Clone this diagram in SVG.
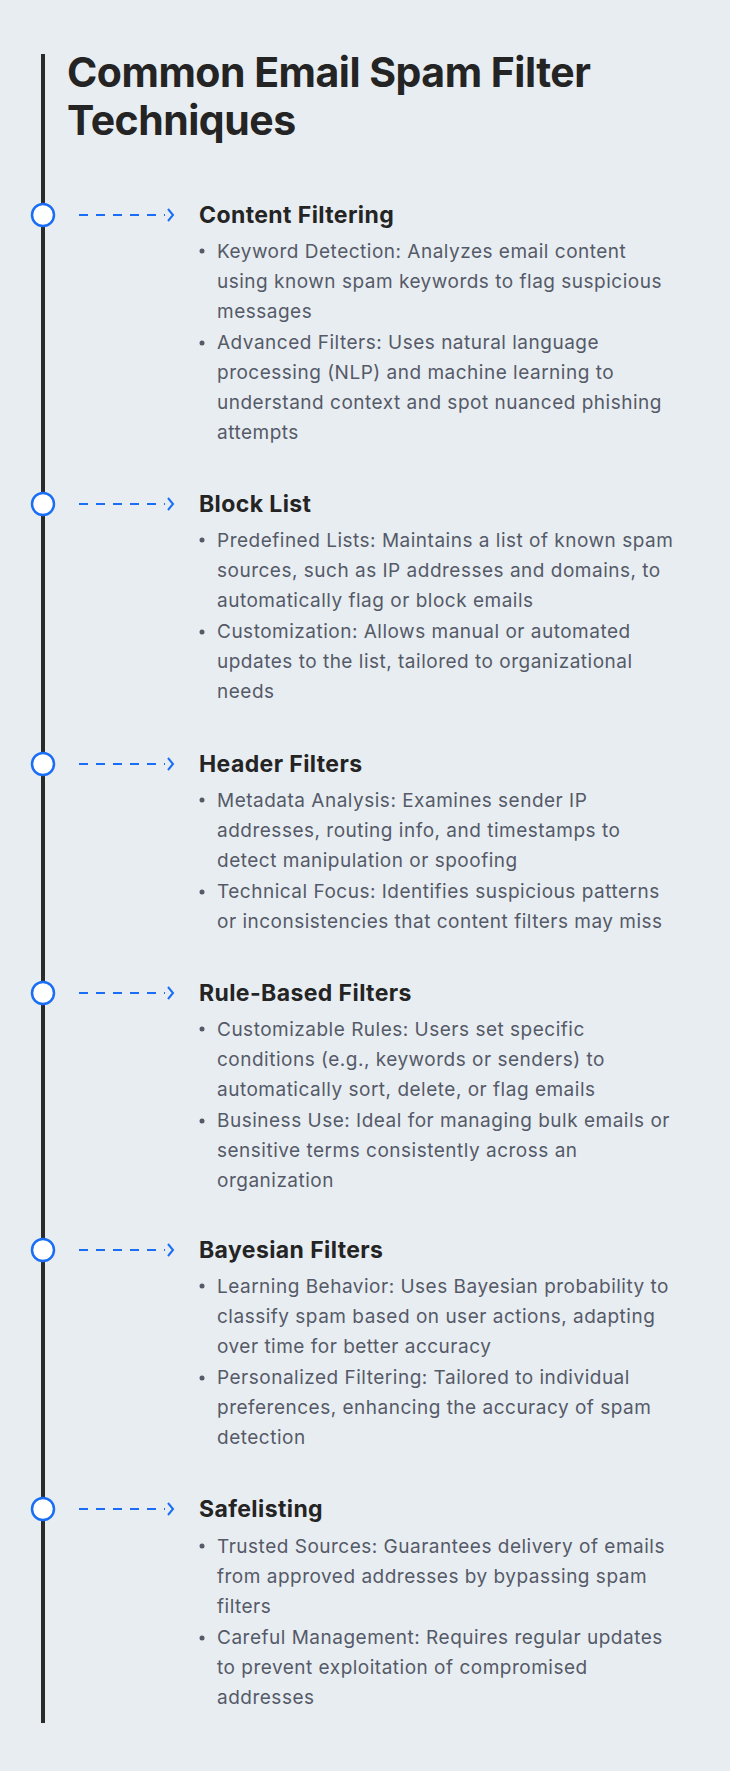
<svg xmlns="http://www.w3.org/2000/svg" width="730" height="1771" viewBox="0 0 730 1771">
<style>
.title{font-family:Inter,"Liberation Sans",sans-serif;font-weight:700;font-size:41px;fill:#242424;letter-spacing:-0.5px}
.h{font-family:Inter,"Liberation Sans",sans-serif;font-weight:700;font-size:23px;fill:#242424;letter-spacing:0.4px}
.b{font-family:Inter,"Liberation Sans",sans-serif;font-size:19px;fill:#555a68;letter-spacing:0.5px}
.dot{fill:#555a68}
.node{fill:#fff;stroke:#1a6ef5;stroke-width:2.5}
.dash{stroke:#1a6ef5;stroke-width:2;stroke-dasharray:9 8;fill:none}
.chev{stroke:#1a6ef5;stroke-width:2;fill:none}
</style>
<rect width="730" height="1771" fill="#e8edf1"/>
<line x1="43" y1="54" x2="43" y2="1723" stroke="#2b2b2b" stroke-width="4"/>
<text class="title" x="67" y="87">Common Email Spam Filter</text>
<text class="title" x="67" y="135">Techniques</text>
<g id="connectors">
<path class="dash" d="M79 215H165"/><path class="chev" d="M168 209l5 6l-5 6"/>
<path class="dash" d="M79 504H165"/><path class="chev" d="M168 498l5 6l-5 6"/>
<path class="dash" d="M79 764H165"/><path class="chev" d="M168 758l5 6l-5 6"/>
<path class="dash" d="M79 993H165"/><path class="chev" d="M168 987l5 6l-5 6"/>
<path class="dash" d="M79 1250H165"/><path class="chev" d="M168 1244l5 6l-5 6"/>
<path class="dash" d="M79 1509H165"/><path class="chev" d="M168 1503l5 6l-5 6"/>
</g>
<g id="n1"><circle class="node" cx="43" cy="215" r="11"/>
<text class="h" x="199" y="223">Content Filtering</text>
<circle class="dot" cx="202" cy="251" r="2.5"/><circle class="dot" cx="202" cy="343" r="2.5"/>
<text class="b" x="217" y="258">Keyword Detection: Analyzes email content</text>
<text class="b" x="217" y="288">using known spam keywords to flag suspicious</text>
<text class="b" x="217" y="318">messages</text>
<text class="b" x="217" y="349">Advanced Filters: Uses natural language</text>
<text class="b" x="217" y="379">processing (NLP) and machine learning to</text>
<text class="b" x="217" y="409">understand context and spot nuanced phishing</text>
<text class="b" x="217" y="439">attempts</text></g>
<g id="n2"><circle class="node" cx="43" cy="504" r="11"/>
<text class="h" x="199" y="512">Block List</text>
<circle class="dot" cx="202" cy="540" r="2.5"/><circle class="dot" cx="202" cy="632" r="2.5"/>
<text class="b" x="217" y="547">Predefined Lists: Maintains a list of known spam</text>
<text class="b" x="217" y="577">sources, such as IP addresses and domains, to</text>
<text class="b" x="217" y="607">automatically flag or block emails</text>
<text class="b" x="217" y="638">Customization: Allows manual or automated</text>
<text class="b" x="217" y="668">updates to the list, tailored to organizational</text>
<text class="b" x="217" y="698">needs</text></g>
<g id="n3"><circle class="node" cx="43" cy="764" r="11"/>
<text class="h" x="199" y="772">Header Filters</text>
<circle class="dot" cx="202" cy="800" r="2.5"/><circle class="dot" cx="202" cy="892" r="2.5"/>
<text class="b" x="217" y="807">Metadata Analysis: Examines sender IP</text>
<text class="b" x="217" y="837">addresses, routing info, and timestamps to</text>
<text class="b" x="217" y="867">detect manipulation or spoofing</text>
<text class="b" x="217" y="898">Technical Focus: Identifies suspicious patterns</text>
<text class="b" x="217" y="928">or inconsistencies that content filters may miss</text></g>
<g id="n4"><circle class="node" cx="43" cy="993" r="11"/>
<text class="h" x="199" y="1001">Rule-Based Filters</text>
<circle class="dot" cx="202" cy="1029" r="2.5"/><circle class="dot" cx="202" cy="1121" r="2.5"/>
<text class="b" x="217" y="1036">Customizable Rules: Users set specific</text>
<text class="b" x="217" y="1066">conditions (e.g., keywords or senders) to</text>
<text class="b" x="217" y="1096">automatically sort, delete, or flag emails</text>
<text class="b" x="217" y="1127">Business Use: Ideal for managing bulk emails or</text>
<text class="b" x="217" y="1157">sensitive terms consistently across an</text>
<text class="b" x="217" y="1187">organization</text></g>
<g id="n5"><circle class="node" cx="43" cy="1250" r="11"/>
<text class="h" x="199" y="1258">Bayesian Filters</text>
<circle class="dot" cx="202" cy="1286" r="2.5"/><circle class="dot" cx="202" cy="1378" r="2.5"/>
<text class="b" x="217" y="1293">Learning Behavior: Uses Bayesian probability to</text>
<text class="b" x="217" y="1323">classify spam based on user actions, adapting</text>
<text class="b" x="217" y="1353">over time for better accuracy</text>
<text class="b" x="217" y="1384">Personalized Filtering: Tailored to individual</text>
<text class="b" x="217" y="1414">preferences, enhancing the accuracy of spam</text>
<text class="b" x="217" y="1444">detection</text></g>
<g id="n6"><circle class="node" cx="43" cy="1509" r="11"/>
<text class="h" x="199" y="1517">Safelisting</text>
<circle class="dot" cx="202" cy="1546" r="2.5"/><circle class="dot" cx="202" cy="1638" r="2.5"/>
<text class="b" x="217" y="1553">Trusted Sources: Guarantees delivery of emails</text>
<text class="b" x="217" y="1583">from approved addresses by bypassing spam</text>
<text class="b" x="217" y="1613">filters</text>
<text class="b" x="217" y="1644">Careful Management: Requires regular updates</text>
<text class="b" x="217" y="1674">to prevent exploitation of compromised</text>
<text class="b" x="217" y="1704">addresses</text></g>
</svg>
